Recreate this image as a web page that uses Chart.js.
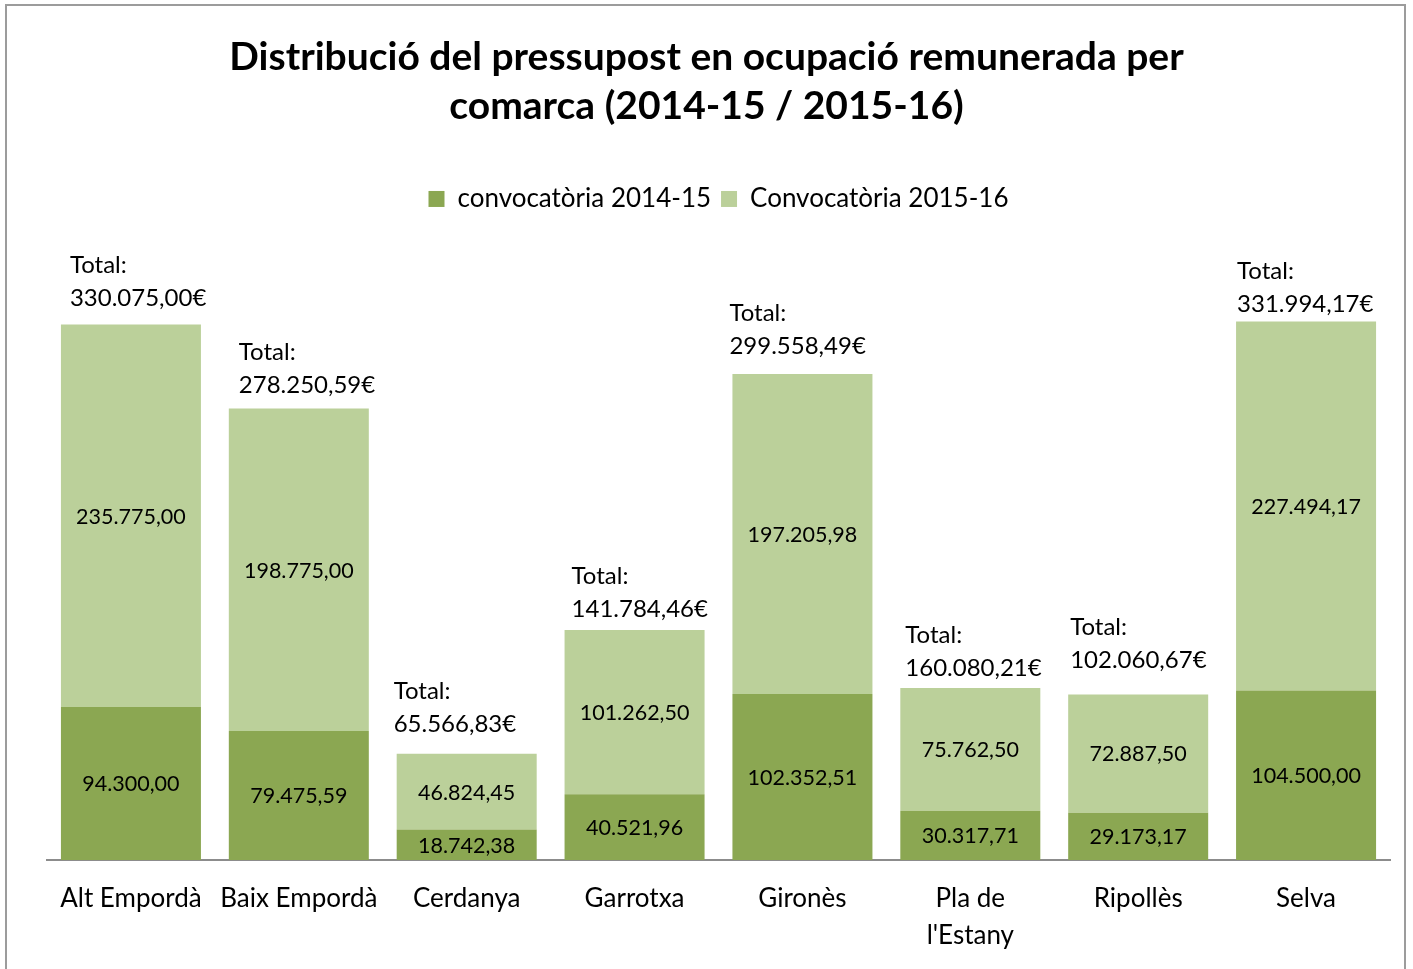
<!DOCTYPE html>
<html>
<head>
<meta charset="utf-8">
<script src="https://cdn.jsdelivr.net/npm/chart.js@4.4.0/dist/chart.umd.min.js"></script>
<style>
  html, body { margin: 0; padding: 0; background: #fff; }
  #frame {
    position: absolute; left: 5px; top: 4px; width: 1401px; height: 1000px;
    border: 2px solid #9c9c9c; box-sizing: border-box;
  }
  #pressupost { position: absolute; left: 0; top: 0; }
</style>
</head>
<body>
<div id="frame"></div>
<canvas id="pressupost" width="1413" height="969"></canvas>
<script>
// === DADES ===
const comarques = ['Alt Empordà', 'Baix Empordà', 'Cerdanya', 'Garrotxa', 'Gironès', ['Pla de', "l'Estany"], 'Ripollès', 'Selva'];
const conv2014 = [94300.00, 79475.59, 18742.38, 40521.96, 102352.51, 30317.71, 29173.17, 104500.00];
const conv2015 = [235775.00, 198775.00, 46824.45, 101262.50, 197205.98, 75762.50, 72887.50, 227494.17];
const totals = [330075.00, 278250.59, 65566.83, 141784.46, 299558.49, 160080.21, 102060.67, 331994.17];

// label placement for the "Total:" boxes (px from bar left / bar top)
const totalDx = [9, 10, -3, 7, -3, 5, 2, 1];
const totalDy = [26, 23, 29, 21, 28, 20, 34, 17];

const FONT = 'Lato, "Open Sans", sans-serif';
const DARK = '#8ba752';
const LIGHT = '#bbd09a';

// 1234.5 -> "1.234,50"
function fmt(v) {
  const parts = v.toFixed(2).split('.');
  parts[0] = parts[0].replace(/\B(?=(\d{3})+(?!\d))/g, '.');
  return parts.join(',');
}

// === LABELS PLUGIN ===
const labelsPlugin = {
  id: 'labels',
  afterDatasetsDraw(chart) {
    const ctx = chart.ctx;
    ctx.save();
    ctx.fillStyle = '#000';

    // values centered inside each segment
    ctx.font = '21.5px ' + FONT;
    ctx.textAlign = 'center';
    ctx.textBaseline = 'middle';
    chart.data.datasets.forEach((ds, i) => {
      const meta = chart.getDatasetMeta(i);
      meta.data.forEach((bar, j) => {
        const mid = (bar.y + bar.base) / 2;
        ctx.fillText(fmt(ds.data[j]), bar.x, mid + 1);
      });
    });

    // totals above each stack
    ctx.font = '24px ' + FONT;
    ctx.textAlign = 'left';
    const top = chart.getDatasetMeta(1).data;
    top.forEach((bar, j) => {
      const left = bar.x - bar.width / 2 + totalDx[j];
      const y = bar.y - totalDy[j];
      ctx.fillText(fmt(totals[j]) + '€', left, y);
      ctx.fillText('Total:', left, y - 33);
    });
    ctx.restore();
  }
};

// === CHART ===
const ctx = document.getElementById('pressupost').getContext('2d');
new Chart(ctx, {
  type: 'bar',
  data: {
    labels: comarques,
    datasets: [
      { label: 'convocatòria 2014-15', data: conv2014, backgroundColor: DARK },
      { label: 'Convocatòria 2015-16', data: conv2015, backgroundColor: LIGHT }
    ]
  },
  options: {
    responsive: false,
    animation: false,
    layout: { padding: { left: 23, right: 23, top: 0, bottom: 0 } },
    datasets: { bar: { categoryPercentage: 1, barPercentage: 0.834 } },
    plugins: {
      title: {
        display: true,
        text: ['Distribució del pressupost en ocupació remunerada per', 'comarca (2014-15 / 2015-16)'],
        color: '#000',
        font: { family: FONT, size: 39, weight: 'bold', lineHeight: 1.256 },
        padding: { top: 33, bottom: 45 }
      },
      legend: {
        display: true,
        fullSize: false,
        labels: {
          color: '#000',
          font: { family: FONT, size: 26 },
          boxWidth: 16,
          boxHeight: 16,
          padding: 10
        }
      },
      tooltip: { enabled: false }
    },
    scales: {
      x: {
        stacked: true,
        grid: { display: false },
        border: { display: true, color: '#8c8c8c', width: 2 },
        ticks: { color: '#000', font: { family: FONT, size: 26, lineHeight: 1.42 }, padding: 12, maxRotation: 0, autoSkip: false },
        afterFit(s) { s.height = 109; }
      },
      y: {
        stacked: true,
        min: 0,
        max: 393300,
        grid: { display: false },
        border: { display: false },
        ticks: { display: false },
        afterFit(s) { s.width = 24; }
      }
    }
  },
  plugins: [labelsPlugin]
});
</script>
</body>
</html>
